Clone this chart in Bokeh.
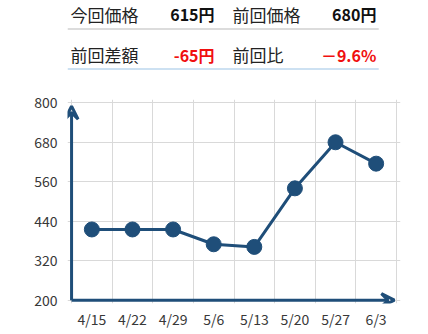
from bokeh.plotting import figure
from bokeh.layouts import column
from bokeh.models import Range1d, FixedTicker, Arrow, VeeHead, ColumnDataSource
from bokeh.core.properties import value
from bokeh.embed import file_html
from bokeh.resources import INLINE

# ---- data ----
dates = ["4/15", "4/22", "4/29", "5/6", "5/13", "5/20", "5/27", "6/3"]
prices = [415, 415, 415, 370, 362, 540, 680, 615]
y_ticks = [200, 320, 440, 560, 680, 800]

row_labels = ["今回価格", "前回価格", "前回差額", "前回比"]
row_values = ["615円", "680円", "-65円", "－9.6%"]

NAVY = "#1F4E79"
FONT = "Noto Sans CJK JP"

# ---- header ----
h = figure(width=428, height=80, x_range=Range1d(0, 428), y_range=Range1d(80, 0),
           output_backend="svg", toolbar_location=None, min_border=0)
h.axis.visible = False
h.grid.visible = False
h.outline_line_color = None

lab_x = [4, 212, 4, 212]
lab_y = [13.5, 13.5, 54, 54]
val_x = [189, 397, 189, 397]
h.text(x=lab_x, y=lab_y, text=row_labels, text_font=value(FONT), text_font_size="17px",
       text_color="#222222", text_baseline="middle", text_align="left")
h.text(x=val_x[:2], y=lab_y[:2], text=row_values[:2], text_font=value(FONT), text_font_size="16px",
       text_font_style="bold", text_color="#111111", text_baseline="middle", text_align="right")
h.text(x=val_x[2:], y=lab_y[2:], text=row_values[2:], text_font=value(FONT), text_font_size="16px",
       text_font_style="bold", text_color="#F01010", text_baseline="middle", text_align="right")
h.line(x=[0, 400], y=[28.5, 28.5], line_color="#D0D0D0", line_width=1.5)
h.line(x=[0, 400], y=[68.5, 68.5], line_color="#BDD7EE", line_width=1.5)

# ---- chart ----
n = len(dates)
xs = [i + 0.5 for i in range(n)]
p = figure(width=428, height=254, x_range=Range1d(-0.1, n + 0.1), y_range=Range1d(190, 810),
           output_backend="svg", toolbar_location=None,
           min_border_left=67, min_border_right=28, min_border_top=19, min_border_bottom=31)
p.outline_line_color = None
p.xgrid.ticker = FixedTicker(ticks=list(range(n + 1)))
p.ygrid.ticker = FixedTicker(ticks=y_ticks)
p.grid.grid_line_color = "#D9D9D9"
p.grid.grid_line_width = 1

p.xaxis.ticker = FixedTicker(ticks=xs)
p.xaxis.major_label_overrides = {x: d for x, d in zip(xs, dates)}
p.yaxis.ticker = FixedTicker(ticks=y_ticks)
for ax in (p.xaxis[0], p.yaxis[0]):
    ax.axis_line_color = None
    ax.major_tick_line_color = None
    ax.minor_tick_line_color = None
    ax.major_tick_out = 0
    ax.major_tick_in = 0
    ax.minor_tick_out = 0
    ax.major_label_text_font = FONT
    ax.major_label_text_font_size = "14px"
    ax.major_label_text_color = "#383838"
p.xaxis.major_label_standoff = 5
p.yaxis.major_label_standoff = 10

# axes with arrows
p.add_layout(Arrow(x_start=0, y_start=200, x_end=7.95, y_end=200, line_color=NAVY, line_width=3,
                   end=VeeHead(size=13, line_color=NAVY, line_width=3, fill_color=None)))
p.add_layout(Arrow(x_start=0, y_start=200, x_end=0, y_end=790, line_color=NAVY, line_width=3,
                   end=VeeHead(size=13, line_color=NAVY, line_width=3, fill_color=None)))

src = ColumnDataSource(dict(x=xs, y=prices))
p.line("x", "y", source=src, line_color=NAVY, line_width=3)
p.scatter("x", "y", source=src, size=15, fill_color=NAVY, line_color=NAVY)

layout = column(h, p, spacing=0)
open("out.html", "w").write(file_html(layout, INLINE))
